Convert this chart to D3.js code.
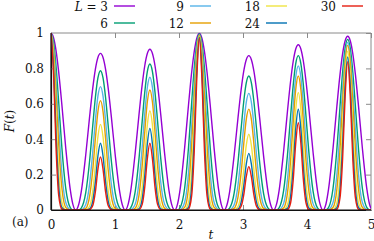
<!DOCTYPE html>
<html><head><meta charset="utf-8">
<script src="https://cdn.jsdelivr.net/npm/d3@7"></script>
<style>
html,body{margin:0;padding:0;background:#fff;}
svg{display:block;}
svg text{fill:#111;}
</style></head><body>
<svg id="c" width="374" height="241"></svg>
<script>
const tVals = [0,0.04,0.08,0.12,0.17,0.23,0.30,0.34,0.386,
0.433,0.473,0.543,0.603,0.653,0.693,0.733,0.773,0.813,0.853,0.893,0.943,1.003,1.073,1.113,1.159,
1.205,1.245,1.315,1.375,1.425,1.465,1.505,1.545,1.585,1.625,1.665,1.715,1.775,1.845,1.885,1.932,
1.978,2.018,2.088,2.148,2.198,2.238,2.278,2.318,2.358,2.398,2.438,2.488,2.548,2.618,2.658,2.705,
2.751,2.791,2.861,2.921,2.971,3.011,3.051,3.091,3.131,3.171,3.211,3.261,3.321,3.391,3.431,3.477,
3.524,3.564,3.634,3.694,3.744,3.784,3.824,3.864,3.904,3.944,3.984,4.034,4.094,4.164,4.204,4.250,
4.296,4.336,4.406,4.466,4.516,4.556,4.596,4.636,4.676,4.716,4.756,4.806,4.866,4.936,4.976,5.0];

const F_L3 = [1,.974,.898,.780,.594,.352,.118,.035,0,
.031,.104,.312,.526,.690,.795,.862,.885,.862,.795,.690,.526,.312,.104,.031,0,
.032,.107,.320,.539,.708,.815,.884,.908,.884,.815,.708,.539,.320,.107,.032,0,
.035,.118,.351,.592,.778,.895,.971,.997,.971,.895,.778,.592,.351,.118,.035,0,
.031,.103,.307,.518,.680,.783,.849,.872,.849,.783,.680,.518,.307,.103,.031,0,
.033,.110,.329,.555,.729,.839,.910,.934,.910,.839,.729,.555,.329,.110,.033,0,
.034,.116,.346,.583,.766,.882,.956,.982,.956,.882,.766,.583,.346,.116,.034,.008];

const F_L6 = [1,.948,.806,.609,.352,.124,.014,.001,0,
.001,.011,.098,.277,.479,.634,.746,.787,.746,.634,.479,.277,.098,.011,.001,0,
.001,.012,.102,.290,.502,.665,.782,.825,.782,.665,.502,.290,.102,.012,.001,0,
.001,.014,.123,.350,.605,.801,.942,.994,.942,.801,.605,.350,.123,.014,.001,0,
.001,.011,.094,.266,.461,.610,.718,.757,.718,.610,.461,.266,.094,.011,.001,0,
.001,.012,.108,.307,.531,.703,.827,.872,.827,.703,.531,.307,.108,.012,.001,0,
.001,.013,.120,.339,.587,.777,.914,.964,.914,.777,.587,.339,.120,.013,.001,0];

const F_L9 = [1,.923,.724,.475,.209,.044,.002,0,0,
0,.001,.031,.146,.331,.505,.643,.697,.643,.505,.331,.146,.031,.001,0,0,
0,.002,.033,.157,.356,.543,.692,.750,.692,.543,.356,.157,.033,.002,0,0,
0,.002,.044,.207,.471,.717,.915,.991,.915,.717,.471,.207,.044,.002,0,0,
0,.001,.029,.138,.313,.477,.608,.659,.608,.477,.313,.138,.029,.001,0,0,
0,.002,.036,.170,.387,.589,.751,.814,.751,.589,.387,.170,.036,.002,0,0,
0,.002,.042,.198,.450,.686,.874,.947,.874,.686,.450,.198,.042,.002,0,0];

const F_L12 = [1,.899,.650,.371,.124,.015,0,0,0,
0,0,.009,.077,.229,.402,.556,.618,.556,.402,.229,.077,.009,0,0,0,
0,0,.010,.084,.252,.441,.610,.678,.610,.441,.252,.084,.010,0,0,0,
0,0,.015,.123,.367,.642,.888,.988,.888,.642,.367,.123,.015,0,0,0,
0,0,.009,.071,.211,.371,.512,.570,.512,.371,.211,.071,.009,0,0,0,
0,0,.011,.094,.281,.492,.681,.757,.681,.492,.281,.094,.011,0,0,0,
0,0,.014,.115,.345,.605,.836,.930,.836,.605,.345,.115,.014,0,0,0];

const F_L18 = [1,.853,.524,.226,.044,.002,0,0,0,
0,0,.001,.021,.109,.254,.413,.484,.413,.254,.109,.021,.001,0,0,0,
0,0,.001,.025,.127,.294,.479,.561,.479,.294,.127,.025,.001,0,0,0,
0,0,.002,.043,.222,.515,.838,.982,.838,.515,.222,.043,.002,0,0,0,
0,0,.001,.019,.097,.224,.365,.428,.365,.224,.097,.019,.001,0,0,0,
0,0,.001,.029,.150,.347,.566,.663,.566,.347,.150,.029,.001,0,0,0,
0,0,.002,.039,.203,.470,.765,.897,.765,.470,.203,.039,.002,0,0,0];

const F_L24 = [1,.809,.422,.137,.015,0,0,0,0,
0,0,0,.006,.052,.159,.305,.377,.305,.159,.052,.006,0,0,0,0,
0,0,0,.007,.063,.195,.373,.461,.373,.195,.063,.007,0,0,0,0,
0,0,0,.015,.134,.412,.790,.976,.790,.412,.134,.015,0,0,0,0,
0,0,0,.005,.044,.135,.259,.320,.259,.135,.044,.005,0,0,0,0,
0,0,0,.009,.078,.240,.460,.569,.460,.240,.078,.009,0,0,0,0,
0,0,0,.013,.119,.365,.700,.865,.700,.365,.119,.013,0,0,0,0];

const F_L30 = [1,.767,.341,.084,.005,0,0,0,0,
0,0,0,.002,.025,.102,.230,.300,.230,.102,.025,.002,0,0,0,0,
0,0,0,.002,.032,.129,.289,.377,.289,.129,.032,.002,0,0,0,0,
0,0,0,.005,.081,.331,.744,.970,.744,.331,.081,.005,0,0,0,0,
0,0,0,.001,.021,.084,.188,.245,.188,.084,.021,.001,0,0,0,0,
0,0,0,.002,.041,.168,.378,.493,.378,.168,.041,.002,0,0,0,0,
0,0,0,.004,.070,.286,.643,.838,.643,.286,.070,.004,0,0,0,0];

const seriesLabels = ["3","6","9","12","18","24","30"];
const seriesColors = ["#9400d3","#009e73","#56b4e9","#e69f00","#f0e442","#0072b2","#e51e10"];
const seriesValues = [F_L3,F_L6,F_L9,F_L12,F_L18,F_L24,F_L30];
const xTicks = [0,1,2,3,4,5];
const yTicks = [0,0.2,0.4,0.6,0.8,1];

const FONT = "'DejaVu Serif', serif";
const FS = 12;
const svg = d3.select("#c");
const m = {left:51, right:371, top:33, bottom:210};
const x = d3.scaleLinear().domain([0,5]).range([m.left,m.right]);
const y = d3.scaleLinear().domain([0,1]).range([m.bottom,m.top]);

svg.append("defs").append("clipPath").attr("id","clip")
  .append("rect").attr("x",m.left).attr("y",m.top-1).attr("width",m.right-m.left).attr("height",m.bottom-m.top+1);

const gray="#8a8a8a";
svg.append("line").attr("x1",m.left).attr("x2",m.right).attr("y1",m.top).attr("y2",m.top).attr("stroke",gray).attr("stroke-width",1);
svg.append("line").attr("x1",m.right).attr("x2",m.right).attr("y1",m.top).attr("y2",m.bottom).attr("stroke",gray).attr("stroke-width",1);

const gx = svg.append("g").attr("transform",`translate(0,${m.bottom})`)
  .call(d3.axisBottom(x).tickValues(xTicks).tickFormat(d3.format("d")).tickSizeInner(-5).tickSizeOuter(0).tickPadding(10));
const gxt = svg.append("g").attr("transform",`translate(0,${m.top})`)
  .call(d3.axisTop(x).tickValues(xTicks).tickFormat("").tickSizeInner(-5).tickSizeOuter(0));
const gy = svg.append("g").attr("transform",`translate(${m.left},0)`)
  .call(d3.axisLeft(y).tickValues(yTicks).tickFormat(d=>d===0?"0":(d===1?"1":d3.format(".1f")(d))).tickSizeInner(-5).tickSizeOuter(0).tickPadding(7));
const gyr = svg.append("g").attr("transform",`translate(${m.right},0)`)
  .call(d3.axisRight(y).tickValues(yTicks).tickFormat("").tickSizeInner(-5).tickSizeOuter(0));
[gx,gxt,gy,gyr].forEach(g=>g.attr("font-family",FONT).attr("font-size",FS));
[gxt,gyr].forEach(g=>{g.select(".domain").remove(); g.selectAll(".tick line").attr("stroke",gray);});
[gx,gy].forEach(g=>{g.select(".domain").attr("stroke","#111").attr("stroke-width",1.2); g.selectAll(".tick line").attr("stroke",gray);
  g.selectAll("text").attr("font-family",FONT).attr("font-size",FS).attr("fill","#111");});
gx.selectAll(".tick line").filter(d=>d===0||d===5).remove();
gy.selectAll(".tick line").filter(d=>d===0||d===1).remove();
gx.selectAll("text").attr("dy","0.71em");

const line = d3.line().x((d,i)=>x(tVals[i])).y(d=>y(d)).curve(d3.curveMonotoneX);
const plot = svg.append("g").attr("clip-path","url(#clip)");
seriesValues.forEach((vals,i)=>{
  plot.append("path").attr("d",line(vals)).attr("fill","none")
    .attr("stroke",seriesColors[i]).attr("stroke-width",1.4).attr("stroke-linejoin","round");
});

svg.append("line").attr("x1",m.left).attr("x2",m.left).attr("y1",m.top).attr("y2",m.bottom).attr("stroke","#111").attr("stroke-width",1.2);
svg.append("line").attr("x1",m.left).attr("x2",m.right).attr("y1",m.bottom).attr("y2",m.bottom).attr("stroke","#111").attr("stroke-width",1.2);

const leg = svg.append("g").attr("font-family",FONT).attr("font-size",FS);
seriesLabels.forEach((lab,i)=>{
  const col=Math.floor(i/2), row=i%2;
  const lx = 114 + col*76, ly = row===0 ? 6 : 23;
  const t = leg.append("text").attr("x",lx-6).attr("y",ly+4.5).attr("text-anchor","end");
  if(i===0){ t.append("tspan").attr("font-style","italic").text("L"); t.append("tspan").text(" = 3"); }
  else t.text(lab);
  leg.append("line").attr("x1",lx).attr("x2",lx+21).attr("y1",ly).attr("y2",ly)
    .attr("stroke",seriesColors[i]).attr("stroke-width",1.4);
});

const lab = svg.append("g").attr("font-family",FONT).attr("font-size",FS);
lab.append("text").attr("x",211).attr("y",239).attr("text-anchor","middle").attr("font-style","italic").text("t");
const yl = lab.append("text").attr("transform","translate(14,121) rotate(-90)").attr("text-anchor","middle");
yl.append("tspan").attr("font-style","italic").text("F");
yl.append("tspan").text("(");
yl.append("tspan").attr("font-style","italic").text("t");
yl.append("tspan").text(")");
lab.append("text").attr("x",12).attr("y",226).text("(a)");
</script>
</body></html>
